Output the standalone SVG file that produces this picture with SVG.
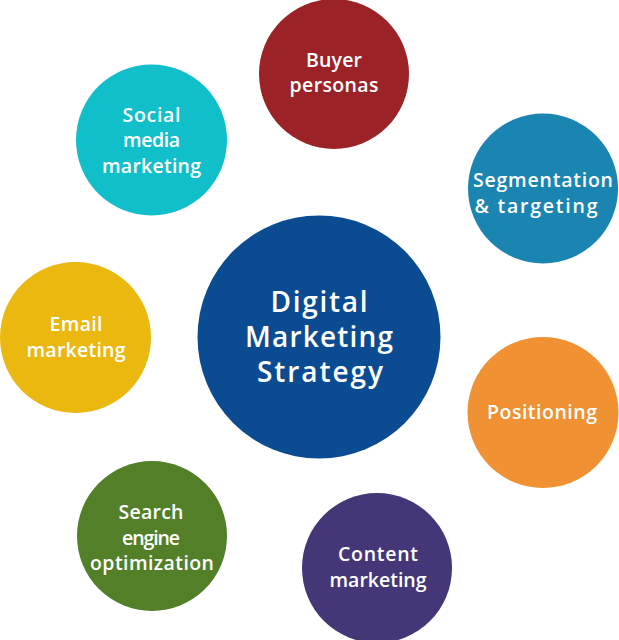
<svg xmlns="http://www.w3.org/2000/svg" width="619" height="640" viewBox="0 0 619 640">
<style>
.t{font-family:"Open Sans","Liberation Sans",sans-serif;font-weight:600;fill:#fff;text-anchor:middle;font-size:19.5px}
.c{font-size:28px}
</style>
<rect width="619" height="640" fill="#fff"/>
<g id="connectors"/>
<g id="center">
<circle cx="319" cy="337" r="121.5" fill="#0b4b91"/>
<text class="t c" x="319" y="312" textLength="97">Digital</text>
<text class="t c" x="319" y="347" textLength="148">Marketing</text>
<text class="t c" x="320" y="382" textLength="126">Strategy</text>
</g>
<g id="buyer">
<circle cx="334" cy="74" r="75" fill="#9b2327"/>
<text class="t" x="334" y="67" textLength="56">Buyer</text>
<text class="t" x="334" y="92" textLength="89">personas</text>
</g>
<g id="social">
<circle cx="151.5" cy="140" r="75.5" fill="#11bfca"/>
<text class="t" x="151.5" y="122" textLength="58">Social</text>
<text class="t" x="151.5" y="147" textLength="57">media</text>
<text class="t" x="151.5" y="173" textLength="99">marketing</text>
</g>
<g id="segmentation">
<circle cx="543" cy="188.5" r="75" fill="#1b85b1"/>
<text class="t" x="543" y="187" textLength="140">Segmentation</text>
<text class="t" x="536" y="213" textLength="123">&amp; targeting</text>
</g>
<g id="email">
<circle cx="75.5" cy="337.5" r="75.5" fill="#ebb80f"/>
<text class="t" x="76" y="331" textLength="53">Email</text>
<text class="t" x="76" y="357" textLength="99">marketing</text>
</g>
<g id="positioning">
<circle cx="543" cy="412.5" r="75.5" fill="#f09233"/>
<text class="t" x="542" y="419" textLength="110">Positioning</text>
</g>
<g id="seo">
<circle cx="152" cy="536" r="75" fill="#537f29"/>
<text class="t" x="151" y="519" textLength="65">Search</text>
<text class="t" x="151" y="545" textLength="58">engine</text>
<text class="t" x="152" y="570" textLength="124">optimization</text>
</g>
<g id="content">
<circle cx="377" cy="568" r="75" fill="#443677"/>
<text class="t" x="378" y="561" textLength="80">Content</text>
<text class="t" x="378" y="587" textLength="97">marketing</text>
</g>
</svg>
